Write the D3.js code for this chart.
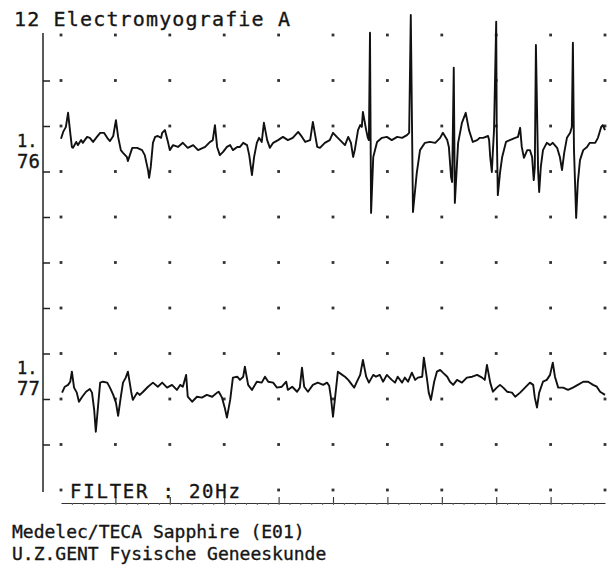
<!DOCTYPE html>
<html>
<head>
<meta charset="utf-8">
<script src="https://cdn.jsdelivr.net/npm/d3@7"></script>
<style>
  body { margin: 0; background: #fff; }
  svg { display: block; }
  text { font-family: "DejaVu Sans Mono", monospace; fill: #151515; stroke: #151515; stroke-width: 0.35px; }
</style>
</head>
<body>
<svg id="svg" width="614" height="565"></svg>
<script>
// [time ms, amplitude uV], relative to each channel baseline
let trace76 = [
  [0.0,7],[0.4,22],[0.9,33],[1.3,64],[1.7,20],[2.0,-11],[2.2,-13],[2.8,0],[3.1,-7],[3.7,4],
  [4.0,-2],[4.8,11],[5.3,9],[5.9,0],[6.6,11],[7.2,20],[7.9,20],[8.5,9],[9.0,2],[9.6,13],
  [10.1,48],[10.5,11],[11.0,-18],[11.4,-24],[12.1,-33],[12.3,-42],[13.1,-13],[14.0,-13],[14.9,-18],[15.4,-29],
  [16.0,-62],[16.2,-79],[16.5,-55],[16.9,-2],[17.3,11],[17.8,13],[18.4,9],[18.6,20],[19.1,26],[19.7,-2],
  [20.0,-18],[20.6,-7],[21.5,-11],[22.4,-2],[23.3,-13],[24.3,-7],[25.2,-18],[26.5,-11],[27.4,0],[27.9,4],
  [28.3,37],[28.7,-11],[29.2,-29],[29.8,-22],[30.5,-11],[31.1,-7],[31.6,-18],[32.4,-11],[32.9,-11],[33.5,-2],
  [34.2,-7],[34.6,-29],[35.1,-73],[35.5,-33],[36.0,-2],[36.4,9],[36.9,0],[37.3,42],[37.9,4],[38.4,-13],
  [39.0,-2],[39.9,4],[40.8,11],[41.7,4],[42.6,9],[43.6,22],[44.3,11],[44.9,0],[45.8,4],[46.3,44],
  [47.1,-11],[47.6,-13],[48.5,-2],[49.4,4],[50.0,20],[50.7,11],[51.3,4],[52.2,-7],[52.8,11],[53.3,-2],
  [53.7,-33],[54.0,-18],[54.6,26],[55.0,37],[55.3,33],[55.5,66],[56.1,26],[56.4,9],[56.6,4],[56.8,240],
  [57.0,-156],[57.4,-33],[58.1,0],[59.0,9],[59.9,11],[60.8,4],[61.8,11],[62.7,9],[63.6,15],[64.0,20],
  [64.3,279],[64.7,-154],[65.4,-68],[66.0,-18],[66.9,-2],[67.8,0],[68.8,-2],[69.7,9],[70.2,20],[71.0,4],
  [71.3,-11],[71.7,-77],[71.9,-88],[72.2,163],[72.4,-134],[72.8,-46],[73.0,-2],[73.7,42],[74.4,64],[75.0,26],
  [75.7,0],[76.5,4],[77.0,9],[77.6,9],[78.5,13],[78.7,4],[78.9,-33],[79.2,-66],[79.4,-18],[79.6,26],
  [80.0,264],[80.1,26],[80.3,-117],[80.7,-68],[81.1,-33],[81.8,0],[82.5,4],[83.5,9],[84.0,11],[84.4,31],
  [84.7,-11],[85.1,-35],[85.7,-18],[86.2,-18],[86.6,-33],[86.9,-84],[87.1,-55],[87.3,213],[87.7,-62],[87.9,-110],
  [88.2,-55],[88.6,-18],[89.3,-2],[89.9,-7],[90.4,-2],[91.2,-13],[91.7,-33],[92.1,-62],[92.5,-24],[93.0,9],
  [93.6,20],[93.9,33],[94.1,218],[94.3,-18],[94.7,-167],[95.0,-90],[95.4,-40],[96.0,-18],[96.7,-11],[97.2,-2],
  [98.2,-2],[98.7,9],[99.3,33],[99.6,37],[100.0,26]
];
let trace77 = [
  [0.2,-15],[0.7,-2],[1.3,2],[1.7,9],[2.0,31],[2.4,-4],[2.9,-15],[3.3,-35],[3.9,-24],[4.6,-13],
  [5.3,-7],[5.7,-15],[6.1,-53],[6.4,-101],[6.8,-46],[7.2,7],[7.7,9],[8.5,7],[9.0,-4],[9.6,-20],
  [10.1,-37],[10.5,-66],[11.0,-24],[11.4,7],[11.9,18],[12.3,31],[12.9,-13],[13.2,-31],[14.0,-15],[14.5,-20],
  [15.1,-13],[16.0,-2],[16.9,7],[17.8,-2],[18.6,7],[19.5,-4],[20.4,2],[21.3,-9],[21.9,2],[22.4,-2],
  [23.0,24],[23.3,-24],[24.1,-35],[25.0,-24],[25.9,-26],[26.8,-20],[27.8,-24],[28.7,-15],[29.0,-13],[29.6,-26],
  [30.1,-48],[30.5,-70],[31.1,-31],[31.6,18],[32.4,20],[32.9,13],[33.5,20],[33.8,42],[34.4,2],[35.1,-9],
  [36.0,9],[36.9,7],[37.5,20],[38.1,9],[39.0,7],[39.7,-4],[40.6,-2],[41.4,9],[41.7,-9],[42.5,-2],
  [43.4,-13],[43.9,-4],[44.3,40],[44.7,-2],[45.4,-13],[46.3,2],[47.2,7],[48.2,2],[48.9,7],[49.3,0],
  [49.6,-24],[50.0,-68],[50.4,-24],[50.9,31],[51.7,24],[52.2,20],[52.8,13],[53.5,2],[53.9,-4],[54.4,9],
  [55.0,24],[55.5,57],[56.1,20],[56.6,7],[57.4,24],[57.9,20],[58.6,24],[59.2,9],[59.9,24],[60.8,13],
  [61.4,7],[61.9,20],[62.7,7],[63.2,18],[63.8,9],[64.5,29],[65.1,13],[65.6,18],[66.4,20],[66.7,62],
  [67.3,13],[67.6,-15],[68.0,-31],[68.6,9],[69.1,31],[69.7,35],[70.2,29],[71.0,20],[71.5,9],[72.1,2],
  [72.8,13],[73.7,7],[74.6,18],[75.6,20],[76.5,24],[77.4,18],[77.9,13],[78.3,46],[78.9,7],[79.4,-13],
  [80.1,-4],[80.7,2],[81.3,-4],[82.0,-13],[82.9,-15],[83.5,-24],[84.4,-15],[85.3,-4],[86.2,7],[86.8,2],
  [87.1,-26],[87.5,-48],[87.9,-15],[88.6,9],[89.3,13],[89.9,24],[90.4,51],[90.8,20],[91.4,-4],[92.3,-4],
  [93.2,-9],[94.1,-4],[95.0,2],[96.0,9],[96.9,9],[97.8,2],[98.5,-2],[99.1,-13],[100.0,-20]
];
let traces = [trace76, trace77];
let channelBaselines = [765, 229];   // uV on the 0..1000 grid
let channelLabelRows = [700, 200];   // grid row the "1./76" label sits on
let channelLabels = ["76", "77"];
let timeTicks = d3.range(0, 101, 10);   // 10 ms / div
let ampTicks = d3.range(0, 1001, 100);  // 100 uV / div
let title = "12 Electromyografie A";
let filterLabel = "FILTER : 20Hz";
let footer = ["Medelec/TECA Sapphire (E01)", "U.Z.GENT Fysische Geneeskunde"];

let svg = d3.select("svg");

let x = d3.scaleLinear().domain([0, 100]).range([61, 605]);
let y = d3.scaleLinear().domain([0, 1000]).range([490, 35]);

// grid dots
let dots = [];
timeTicks.forEach((t, i) => {
  ampTicks.forEach(a => {
    // bottom row is hidden under the filter text
    if (a == 0 && i >= 1 && i <= 3) return;
    dots.push({ t, a });
  });
});
svg.append("g")
  .selectAll("rect")
  .data(dots)
  .enter().append("rect")
    .attr("x", d => x(d.t) - 1.4)
    .attr("y", d => y(d.a) - 1.4)
    .attr("width", 2.8)
    .attr("height", 2.8)
    .attr("fill", "#333");

// left amplitude axis
let leftAxis = svg.append("g")
  .attr("transform", "translate(43,0)")
  .call(d3.axisRight(y)
    .tickValues(ampTicks.slice(1, -1))
    .tickSize(7)
    .tickSizeOuter(0)
    .tickFormat(""));
leftAxis.select(".domain").attr("d", "M0," + (y(1000) - 2) + "V" + (y(0) + 2));
leftAxis.selectAll("line, path").attr("stroke", "#222").attr("stroke-width", 1.5);

// bottom time ruler
let ruler = svg.append("g")
  .attr("transform", "translate(0,503)")
  .call(d3.axisTop(x)
    .tickValues(timeTicks.slice(1, -1))
    .tickSize(6)
    .tickSizeOuter(0)
    .tickFormat(""));
ruler.selectAll("line, path").attr("stroke", "#333").attr("stroke-width", 1.1);
svg.append("g")
  .attr("transform", "translate(0,503)")
  .call(d3.axisBottom(x)
    .tickValues(d3.range(2, 100, 2))
    .tickSize(2)
    .tickSizeOuter(0)
    .tickFormat(""))
  .call(g => g.select(".domain").remove())
  .selectAll("line").attr("stroke", "#666");

// traces
traces.forEach((data, i) => {
  let base = channelBaselines[i];
  let line = d3.line()
    .x(d => x(d[0]))
    .y(d => y(base + d[1]));
  svg.append("path")
    .datum(data)
    .attr("fill", "none")
    .attr("stroke", "#111")
    .attr("stroke-width", 1.9)
    .attr("stroke-linejoin", "round")
    .attr("d", line);

  let row = y(channelLabelRows[i]);
  svg.append("text")
    .attr("x", 17)
    .attr("y", row - 25)
    .style("font-size", "17px")
    .text("1.");
  svg.append("text")
    .attr("x", 17)
    .attr("y", row - 4)
    .style("font-size", "19px")
    .text(channelLabels[i]);
});

// texts
svg.append("text")
  .attr("x", 14)
  .attr("y", 26)
  .attr("textLength", 276)
  .attr("lengthAdjust", "spacing")
  .style("font-size", "20px")
  .text(title);

svg.append("text")
  .attr("x", 70)
  .attr("y", 498)
  .attr("textLength", 170)
  .attr("lengthAdjust", "spacing")
  .style("font-size", "19px")
  .text(filterLabel);

footer.forEach((s, i) => {
  svg.append("text")
    .attr("x", 12)
    .attr("y", 538 + i * 22)
    .style("font-size", "18px")
    .text(s);
});
</script>
</body>
</html>
